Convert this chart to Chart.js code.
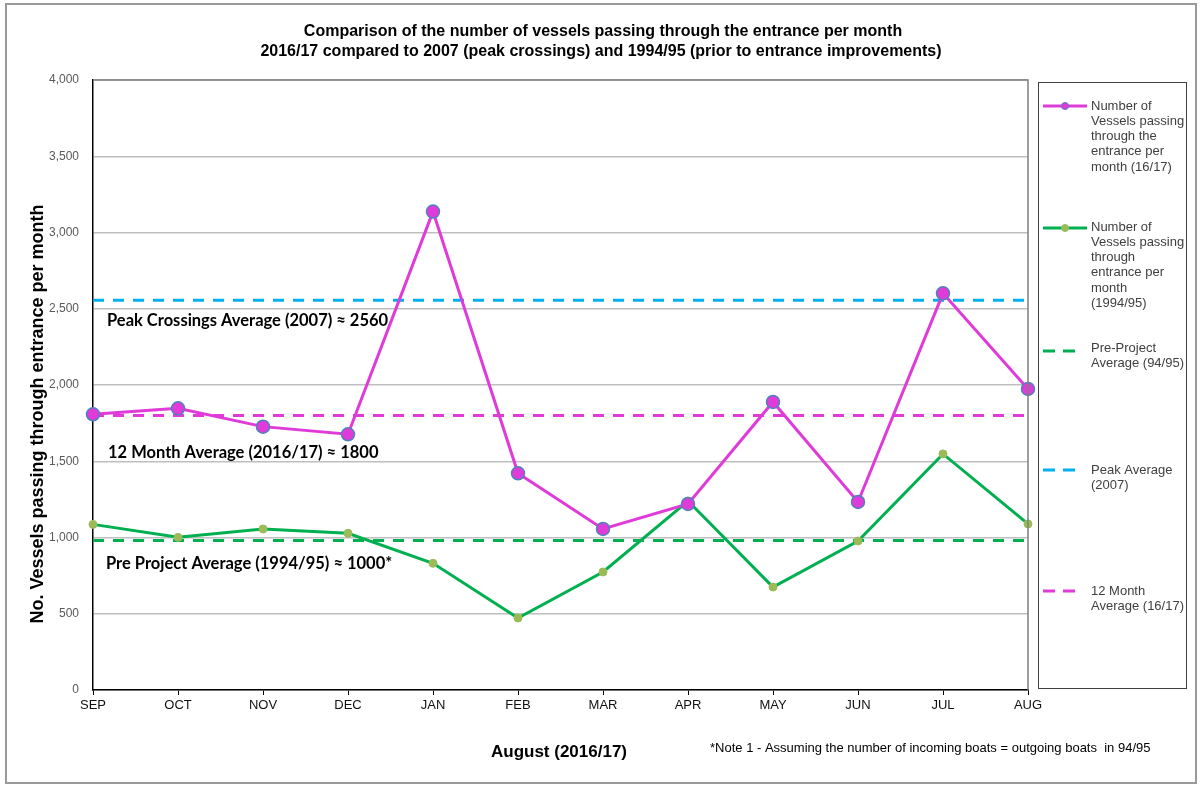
<!DOCTYPE html>
<html>
<head>
<meta charset="utf-8">
<script src="https://cdn.jsdelivr.net/npm/chart.js@4.4.1/dist/chart.umd.min.js"></script>
<style>
  html, body { margin: 0; padding: 0; background: #fff; }
  #wrap { width: 1200px; height: 785px; }
</style>
</head>
<body>
<div id="wrap"><canvas id="c" width="1200" height="785"></canvas></div>
<script>
// ---------- DATA ----------
const MONTHS = ['SEP','OCT','NOV','DEC','JAN','FEB','MAR','APR','MAY','JUN','JUL','AUG'];
const VESSELS_2016_17 = [1808, 1847, 1727, 1677, 3137, 1421, 1056, 1220, 1889, 1233, 2601, 1974];
const VESSELS_1994_95 = [1086, 1001, 1056, 1028, 831, 472, 774, 1239, 675, 977, 1548, 1089];
const PRE_PROJECT_AVG = 980;
const PEAK_AVG_2007 = 2555;
const MONTH12_AVG = 1800;
const Y_MIN = 0, Y_MAX = 4000, Y_STEP = 500;

const TITLE_LINES = [
  'Comparison of the number of vessels passing through the entrance per month',
  '2016/17 compared to 2007 (peak crossings) and 1994/95 (prior to entrance improvements)'
];
const Y_TITLE = 'No. Vessels passing through entrance per month';
const X_TITLE = 'August (2016/17)';
const NOTE = '*Note 1 - Assuming the number of incoming boats = outgoing boats  in 94/95';
const LEGEND_LABELS = [
  ['Number of', 'Vessels passing', 'through the', 'entrance per', 'month (16/17)'],
  ['Number of', 'Vessels passing', 'through', 'entrance per', 'month', '(1994/95)'],
  ['Pre-Project', 'Average (94/95)'],
  ['Peak Average', '(2007)'],
  ['12 Month', 'Average (16/17)']
];
const ANNOTATIONS = [
  { text: 'Peak Crossings Average (2007) \u2248 2560', value: PEAK_AVG_2007 },
  { text: '12 Month Average (2016/17) \u2248 1800', value: MONTH12_AVG },
  { text: 'Pre Project Average (1994/95) \u2248 1000*', value: PRE_PROJECT_AVG }
];

// ---------- STYLE ----------
const MAGENTA = '#e03bd8';
const GREEN = '#00b050';
const CYAN = '#00b0f0';
const FONT = '"Liberation Sans", Arial, sans-serif';

function flat(v) { return [{ x: MONTHS[0], y: v }, { x: MONTHS[MONTHS.length - 1], y: v }]; }

// ---------- PLUGIN (frame, titles, annotations, legend) ----------
const decor = {
  id: 'decor',
  beforeDraw(chart) {
    const ctx = chart.ctx;
    ctx.save();
    ctx.fillStyle = '#fff';
    ctx.fillRect(0, 0, chart.width, chart.height);
    ctx.strokeStyle = '#9a9a9a';
    ctx.lineWidth = 2;
    ctx.strokeRect(6, 4, 1190, 779);
    ctx.restore();
  },
  afterDatasetsDraw(chart) {
    const ctx = chart.ctx;
    const a = chart.chartArea;
    const ys = chart.scales.y;
    ctx.save();
    // plot top/right border
    ctx.strokeStyle = '#7f7f7f';
    ctx.lineWidth = 1.5;
    ctx.beginPath();
    ctx.moveTo(a.left, a.top); ctx.lineTo(a.right, a.top); ctx.lineTo(a.right, a.bottom);
    ctx.stroke();

    // Title
    ctx.fillStyle = '#000';
    ctx.font = 'bold 16px ' + FONT;
    ctx.textAlign = 'center';
    ctx.textBaseline = 'middle';
    ctx.fillText(TITLE_LINES[0], 603, 32);
    ctx.fillText(TITLE_LINES[1], 601, 52);

    // Y title
    ctx.save();
    ctx.translate(38, 414);
    ctx.rotate(-Math.PI / 2);
    ctx.font = 'bold 18px ' + FONT;
    ctx.fillText(Y_TITLE, 0, 0);
    ctx.restore();

    // X title and note
    ctx.font = 'bold 17px ' + FONT;
    ctx.fillText(X_TITLE, 559, 752);
    ctx.font = '13px ' + FONT;
    ctx.textAlign = 'left';
    ctx.fillText(NOTE, 710, 748);

    // Annotations
    const offs = [20, 37, 23];
    const xs = [107, 108, 106];
    ctx.font = 'bold 16.5px Lato, "Open Sans", sans-serif';
    ctx.textAlign = 'left';
    ANNOTATIONS.forEach((an, i) => {
      ctx.fillText(an.text, xs[i], ys.getPixelForValue(an.value) + offs[i]);
    });

    // Legend
    ctx.strokeStyle = '#404040';
    ctx.lineWidth = 1;
    ctx.strokeRect(1038.5, 82.5, 148, 606);
    const sampleY = [106, 228, 351, 470, 591];
    const textY = [106, 227, 348, 470, 591];
    ctx.font = '13px ' + FONT;
    ctx.textBaseline = 'middle';
    chart.data.datasets.forEach((ds, i) => {
      const y = sampleY[i];
      const dashed = !!ds.borderDash;
      ctx.save();
      ctx.strokeStyle = ds.borderColor;
      ctx.lineWidth = 3;
      ctx.setLineDash(dashed ? [12, 8] : []);
      ctx.beginPath();
      ctx.moveTo(1043, y); ctx.lineTo(dashed ? 1077 : 1087, y);
      ctx.stroke();
      ctx.restore();
      if (ds.pointRadius > 0) {
        ctx.save();
        ctx.fillStyle = ds.pointBackgroundColor;
        ctx.strokeStyle = ds.pointBorderColor;
        ctx.lineWidth = 1;
        ctx.beginPath();
        ctx.arc(1065, y, 3.5, 0, Math.PI * 2);
        ctx.fill(); ctx.stroke();
        ctx.restore();
      }
      ctx.fillStyle = '#404040';
      LEGEND_LABELS[i].forEach((line, j) => {
        ctx.fillText(line, 1091, textY[i] + j * 15.3);
      });
    });
    ctx.restore();
  }
};

Chart.defaults.font.family = FONT;

new Chart(document.getElementById('c'), {
  type: 'line',
  data: {
    labels: MONTHS,
    datasets: [
      {
        label: LEGEND_LABELS[0].join(' '),
        data: VESSELS_2016_17,
        borderColor: MAGENTA, borderWidth: 3,
        pointRadius: 6.5, pointBackgroundColor: MAGENTA,
        pointBorderColor: '#4f81bd', pointBorderWidth: 1.5,
        tension: 0, clip: false
      },
      {
        label: LEGEND_LABELS[1].join(' '),
        data: VESSELS_1994_95,
        borderColor: GREEN, borderWidth: 3,
        pointRadius: 4, pointBackgroundColor: '#9bbb59',
        pointBorderColor: '#9bbb59', pointBorderWidth: 1,
        tension: 0, clip: false
      },
      {
        label: LEGEND_LABELS[2].join(' '),
        data: flat(PRE_PROJECT_AVG),
        borderColor: GREEN, borderWidth: 3, borderDash: [11, 9],
        pointRadius: 0, clip: false
      },
      {
        label: LEGEND_LABELS[3].join(' '),
        data: flat(PEAK_AVG_2007),
        borderColor: CYAN, borderWidth: 3, borderDash: [11, 9],
        pointRadius: 0, clip: false
      },
      {
        label: LEGEND_LABELS[4].join(' '),
        data: flat(MONTH12_AVG),
        borderColor: MAGENTA, borderWidth: 3, borderDash: [11, 9],
        pointRadius: 0, clip: false
      }
    ]
  },
  options: {
    responsive: false,
    animation: false,
    layout: { padding: { top: 80, right: 172, left: 0, bottom: 0 } },
    plugins: { legend: { display: false }, tooltip: { enabled: false }, title: { display: false } },
    scales: {
      x: {
        type: 'category',
        offset: false,
        grid: { drawOnChartArea: false, drawTicks: true, tickLength: 5, color: '#000', lineWidth: 1 },
        border: { color: '#000', width: 1.5 },
        ticks: { color: '#111', font: { size: 13 }, padding: 3, maxRotation: 0, autoSkip: false },
        afterFit(s) { s.height = 95; }
      },
      y: {
        min: Y_MIN, max: Y_MAX,
        grid: { color: '#bfbfbf', lineWidth: 1.5, drawTicks: false },
        border: { color: '#000', width: 1.5 },
        ticks: {
          stepSize: Y_STEP, color: '#595959', font: { size: 12 }, padding: 14,
          callback: v => v.toLocaleString('en-US')
        },
        afterFit(s) { s.width = 93; }
      }
    }
  },
  plugins: [decor]
});
</script>
</body>
</html>
